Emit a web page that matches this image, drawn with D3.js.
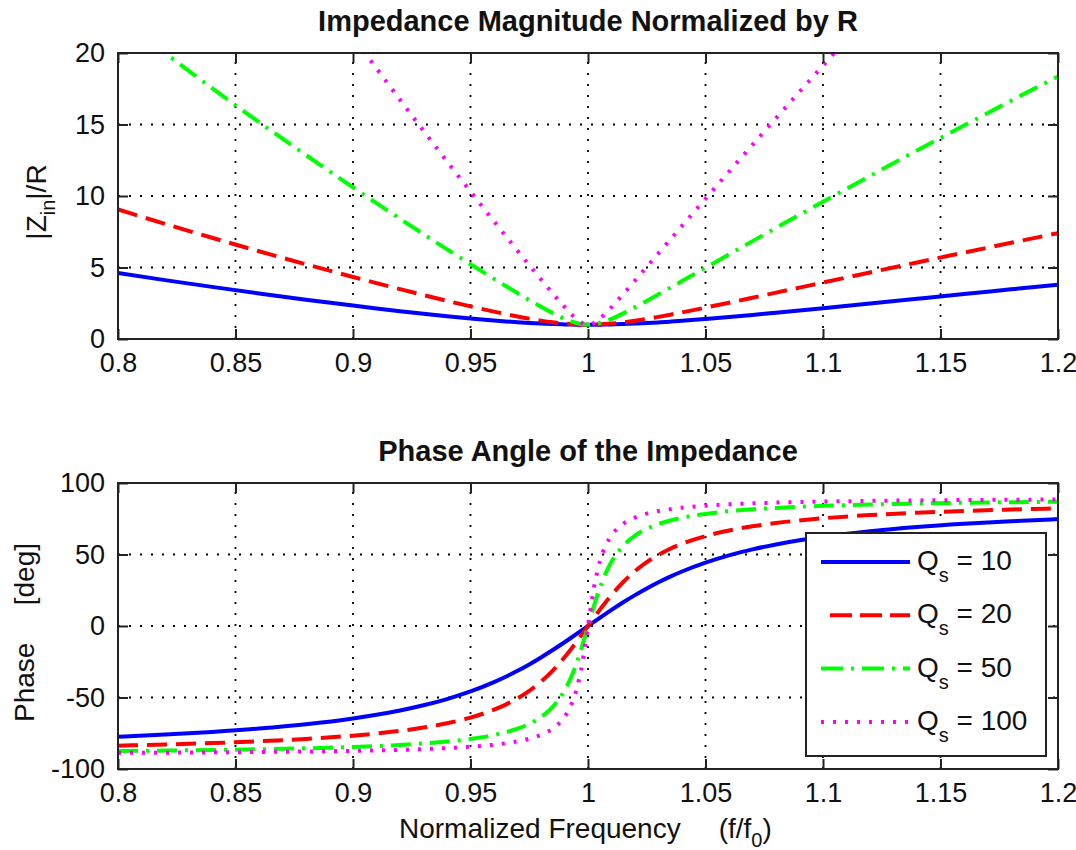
<!DOCTYPE html>
<html>
<head>
<meta charset="utf-8">
<script src="https://cdn.jsdelivr.net/npm/d3@7"></script>
<style>
  body { margin: 0; background: #fff; }
  svg text { font-family: "Liberation Sans", Arial, Helvetica, sans-serif; fill: #111; white-space: pre; }
</style>
</head>
<body>
<svg id="fig" width="1076" height="850"></svg>
<script>
// Normalized frequency f/f0 at which the curves are sampled
const freq = [0.80,0.82,0.84,0.86,0.88,0.90,0.91,0.92,0.93,0.94,0.95,0.96,0.965,0.97,0.975,0.98,0.985,0.99,0.9925,0.995,0.9975,1.0,1.0025,1.005,1.0075,1.01,1.015,1.02,1.025,1.03,1.035,1.04,1.05,1.06,1.07,1.08,1.09,1.10,1.12,1.14,1.16,1.18,1.20];

// Quality factors of the four series circuits
const qValues = [10, 20, 50, 100];

// |Zin|/R for each Q
const magQ10  = [4.610,4.118,3.645,3.189,2.752,2.336,2.137,1.946,1.764,1.592,1.433,1.291,1.228,1.171,1.121,1.079,1.045,1.020,1.011,1.005,1.001,1.000,1.001,1.005,1.011,1.020,1.043,1.076,1.115,1.162,1.214,1.271,1.398,1.536,1.683,1.837,1.994,2.155,2.482,2.812,3.143,3.472,3.801];
const magQ20  = [9.055,8.053,7.081,6.138,5.224,4.339,3.908,3.486,3.073,2.671,2.283,1.915,1.741,1.576,1.423,1.286,1.169,1.078,1.044,1.020,1.005,1.000,1.005,1.020,1.044,1.076,1.164,1.276,1.406,1.549,1.701,1.861,2.194,2.537,2.887,3.240,3.593,3.947,4.652,5.351,6.042,6.726,7.401];
const magQ50  = [22.52,20.00,17.55,15.17,12.86,10.60,9.498,8.408,7.332,6.272,5.228,4.204,3.701,3.206,2.722,2.254,1.812,1.418,1.252,1.119,1.031,1.000,1.031,1.118,1.248,1.411,1.794,2.219,2.664,3.121,3.583,4.048,4.982,5.915,6.845,7.768,8.686,9.598,11.40,13.18,14.93,16.66,18.36];
const magQ100 = [45.01,39.96,35.06,30.30,25.66,21.14,18.92,16.73,14.56,12.42,10.31,8.228,7.197,6.175,5.162,4.163,3.184,2.245,1.808,1.416,1.118,1.000,1.118,1.413,1.798,2.227,3.141,4.085,5.039,5.997,6.954,7.909,9.813,11.70,13.58,15.44,17.29,19.12,22.74,26.30,29.81,33.27,36.68];

// Phase of Zin in degrees for each Q
const phaseQ10  = [-77.47,-75.95,-74.07,-71.73,-68.70,-64.65,-62.10,-59.08,-55.46,-51.08,-45.75,-39.24,-35.48,-31.35,-26.86,-22.00,-16.82,-11.37,-8.56,-5.73,-2.87,0,2.86,5.70,8.50,11.25,16.58,21.61,26.28,30.60,34.53,38.12,44.32,49.38,53.56,57.01,59.91,62.35,66.24,69.17,71.44,73.26,74.74];
const phaseQ20  = [-83.66,-82.87,-81.88,-80.62,-78.96,-76.67,-75.17,-73.33,-71.01,-68.02,-64.03,-58.52,-54.95,-50.63,-45.37,-38.94,-31.16,-21.90,-16.76,-11.34,-5.72,0,5.70,11.29,16.64,21.70,30.78,38.39,44.65,49.78,54.00,57.49,62.88,66.79,69.73,72.02,73.84,75.32,77.58,79.22,80.47,81.45,82.23];
const phaseQ50  = [-87.45,-87.13,-86.73,-86.22,-85.54,-84.59,-83.96,-83.17,-82.16,-80.83,-78.97,-76.24,-74.32,-71.83,-68.45,-63.67,-56.51,-45.14,-36.98,-26.63,-14.06,0,14.01,26.52,36.76,44.86,56.11,63.21,67.95,71.31,73.80,75.70,78.42,80.27,81.60,82.60,83.39,84.02,84.97,85.65,86.16,86.56,86.88];
const phaseQ100 = [-88.73,-88.57,-88.37,-88.11,-87.77,-87.29,-86.97,-86.57,-86.06,-85.38,-84.43,-83.02,-82.01,-80.68,-78.83,-76.10,-71.70,-63.55,-56.41,-45.09,-26.61,0,26.52,44.94,56.20,63.32,71.44,75.83,78.55,80.40,81.73,82.74,84.15,85.10,85.78,86.29,86.68,87.00,87.48,87.82,88.08,88.28,88.44];

// Axis ticks and their labels
const xTicks = [0.8,0.85,0.9,0.95,1.0,1.05,1.1,1.15,1.2];
const xTickLabels = ["0.8","0.85","0.9","0.95","1","1.05","1.1","1.15","1.2"];
const magTicks = [0,5,10,15,20];
const magTickLabels = ["0","5","10","15","20"];
const phaseTicks = [-100,-50,0,50,100];
const phaseTickLabels = ["-100","-50","0","50","100"];

// Line styles (colour, dash pattern) for Q = 10, 20, 50, 100
const lineStyles = [
  { color: "#0000ff", dash: null },
  { color: "#ff0000", dash: "20,9" },
  { color: "#00ff00", dash: "20,8,3,8" },
  { color: "#ff00ff", dash: "3,9" }
];

const svg = d3.select("#fig");
const FONT = 27;
const LABEL_FONT = 28;
const plotLeft = 118, plotRight = 1058;
const x = d3.scaleLinear().domain([0.8, 1.2]).range([plotLeft, plotRight]);

function drawPanel(opts) {
  const { top, bottom, title, titleY, yDomain, yTicks, yTickLabels, series, id } = opts;
  const y = d3.scaleLinear().domain(yDomain).range([bottom, top]);
  const g = svg.append("g");

  g.append("clipPath").attr("id", id).append("rect")
    .attr("x", plotLeft).attr("y", top)
    .attr("width", plotRight - plotLeft).attr("height", bottom - top);

  // dotted grid
  const grid = g.append("g").attr("stroke", "#000").attr("stroke-width", 1.8)
    .attr("stroke-dasharray", "2,9");
  xTicks.slice(1, -1).forEach(t => {
    grid.append("line").attr("x1", x(t)).attr("x2", x(t)).attr("y1", bottom).attr("y2", top);
  });
  yTicks.slice(1, -1).forEach(t => {
    grid.append("line").attr("x1", plotLeft).attr("x2", plotRight).attr("y1", y(t)).attr("y2", y(t));
  });

  // curves
  const line = d3.line().x((d, i) => x(freq[i])).y(d => y(d)).curve(d3.curveMonotoneX);
  const curves = g.append("g").attr("clip-path", `url(#${id})`);
  series.forEach((vals, k) => {
    curves.append("path").datum(vals)
      .attr("d", line)
      .attr("fill", "none")
      .attr("stroke", lineStyles[k].color)
      .attr("stroke-width", 4)
      .attr("stroke-dasharray", lineStyles[k].dash)
      .attr("stroke-linecap", "butt");
  });

  // axes with inward ticks on all four sides
  const styleAxis = sel => {
    sel.select(".domain").remove();
    sel.selectAll(".tick line").attr("stroke", "#222").attr("stroke-width", 2);
    sel.selectAll(".tick text").attr("font-size", FONT).attr("fill", "#111")
      .attr("font-family", "Liberation Sans, Arial, sans-serif");
  };
  g.append("g").attr("transform", `translate(0,${bottom})`)
    .call(d3.axisBottom(x).tickValues(xTicks).tickFormat((d, i) => xTickLabels[i])
      .tickSizeInner(-10).tickSizeOuter(0).tickPadding(14))
    .call(styleAxis);
  g.append("g").attr("transform", `translate(0,${top})`)
    .call(d3.axisTop(x).tickValues(xTicks).tickFormat("").tickSizeInner(-10).tickSizeOuter(0))
    .call(styleAxis);
  g.append("g").attr("transform", `translate(${plotLeft},0)`)
    .call(d3.axisLeft(y).tickValues(yTicks).tickFormat((d, i) => yTickLabels[i])
      .tickSizeInner(-10).tickSizeOuter(0).tickPadding(13))
    .call(styleAxis);
  g.append("g").attr("transform", `translate(${plotRight},0)`)
    .call(d3.axisRight(y).tickValues(yTicks).tickFormat("").tickSizeInner(-10).tickSizeOuter(0))
    .call(styleAxis);

  // frame
  g.append("rect").attr("x", plotLeft).attr("y", top)
    .attr("width", plotRight - plotLeft).attr("height", bottom - top)
    .attr("fill", "none").attr("stroke", "#222").attr("stroke-width", 2);

  // title
  g.append("text").attr("x", (plotLeft + plotRight) / 2).attr("y", titleY)
    .attr("text-anchor", "middle").attr("font-weight", "bold").attr("font-size", 29)
    .text(title);

  return { g, y };
}

// Upper panel: magnitude
drawPanel({
  id: "clipMag", top: 53, bottom: 339, titleY: 31,
  title: "Impedance Magnitude Normalized by R",
  yDomain: [0, 20], yTicks: magTicks, yTickLabels: magTickLabels,
  series: [magQ10, magQ20, magQ50, magQ100]
});

// y label |Z_in|/R
const yl1 = svg.append("text").attr("font-size", LABEL_FONT)
  .attr("transform", "translate(46,202) rotate(-90)").attr("text-anchor", "middle");
yl1.append("tspan").text("|Z");
yl1.append("tspan").attr("font-size", 20).attr("dy", 9).text("in");
yl1.append("tspan").attr("dy", -9).text("|/R");

// Lower panel: phase
drawPanel({
  id: "clipPhase", top: 483, bottom: 769, titleY: 461,
  title: "Phase Angle of the Impedance",
  yDomain: [-100, 100], yTicks: phaseTicks, yTickLabels: phaseTickLabels,
  series: [phaseQ10, phaseQ20, phaseQ50, phaseQ100]
});

// y label "Phase    [deg]"
svg.append("text").attr("font-size", LABEL_FONT)
  .attr("transform", "translate(34,722) rotate(-90)").attr("text-anchor", "start")
  .text("Phase");
svg.append("text").attr("font-size", LABEL_FONT)
  .attr("transform", "translate(34,543) rotate(-90)").attr("text-anchor", "end")
  .text("[deg]");

// x label "Normalized Frequency    (f/f0)"
const xl = svg.append("text").attr("font-size", LABEL_FONT).attr("x", 399).attr("y", 838);
xl.append("tspan").text("Normalized Frequency");
xl.append("tspan").attr("dx", 38).text("(f/f");
xl.append("tspan").attr("font-size", 20).attr("dy", 9).text("0");
xl.append("tspan").attr("dy", -9).text(")");

// legend
const legend = svg.append("g");
legend.append("rect").attr("x", 806).attr("y", 533).attr("width", 240).attr("height", 223)
  .attr("fill", "#fff").attr("stroke", "#222").attr("stroke-width", 2);
qValues.forEach((q, k) => {
  const ry = 562 + k * 53.3;
  const startX = k === 1 ? 830 : 821;
  legend.append("line").attr("x1", startX).attr("x2", 910).attr("y1", ry).attr("y2", ry)
    .attr("stroke", lineStyles[k].color).attr("stroke-width", 4)
    .attr("stroke-dasharray", k === 1 ? "22,8" : (k === 2 ? "22,8,3,8" : lineStyles[k].dash));
  const t = legend.append("text").attr("x", 917).attr("y", ry + 8).attr("font-size", LABEL_FONT);
  t.append("tspan").text("Q");
  t.append("tspan").attr("font-size", 20).attr("dy", 12).text("s");
  t.append("tspan").attr("dy", -12).text(" = " + q);
});
</script>
</body>
</html>
